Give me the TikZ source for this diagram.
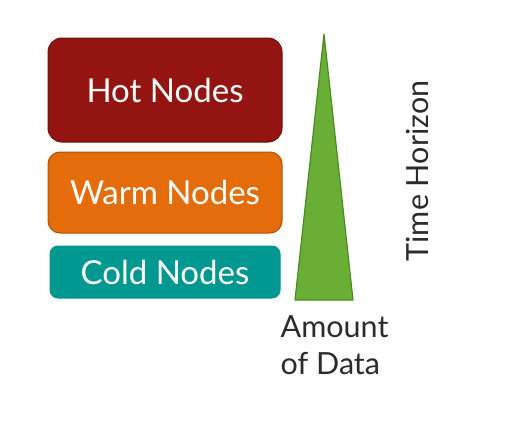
\documentclass[tikz,border=0pt]{standalone}
\usepackage{fontspec}
\setmainfont{Lato}
\usetikzlibrary{positioning}
\definecolor{hotred}{HTML}{931410}
\definecolor{hotline}{HTML}{6E0E0B}
\definecolor{warmorange}{HTML}{E46C0A}
\definecolor{warmline}{HTML}{B35206}
\definecolor{coldteal}{HTML}{009890}
\definecolor{datagreen}{HTML}{6AAF35}
\definecolor{dataline}{HTML}{4A8A22}
\definecolor{labelgray}{HTML}{2B2B2B}
\tikzstyle{tier}=[draw, line width=1pt, text=white, inner sep=0pt, font=\fontsize{33}{38}\selectfont]
\tikzstyle{axislabel}=[text=labelgray, inner sep=0pt, font=\fontsize{30.5}{37}\selectfont]

\begin{document}
\begin{tikzpicture}[x=1pt,y=-1pt]
	\useasboundingbox (0,0) rectangle (506,429);
	% storage tiers
	\node[tier, fill=hotred, draw=hotline, rounded corners=14pt, minimum width=234pt, minimum height=104pt] (hot) at (165,90) {Hot Nodes};
	\node[tier, fill=warmorange, draw=warmline, rounded corners=12pt, minimum width=234pt, minimum height=81pt] (warm) at (165,192.5) {Warm Nodes};
	\node[tier, fill=coldteal, draw=coldteal, rounded corners=8pt, minimum width=230pt, minimum height=52pt] (cold) at (165,272) {Cold Nodes};
	% amount of data
	\coordinate (apex) at (324,34);
	\coordinate (baseleft) at (295,300);
	\coordinate (baseright) at (353,300);
	\draw[fill=datagreen, draw=dataline, line width=1.2pt, line join=bevel] (apex) -- (baseright) -- (baseleft) -- cycle;
	\node[axislabel, align=left, anchor=north west] (amount) at (280.5,315.5) {Amount\\of Data};
	\node[axislabel, rotate=90] (horizon) at (417,171) {Time Horizon};
\end{tikzpicture}
\end{document}
